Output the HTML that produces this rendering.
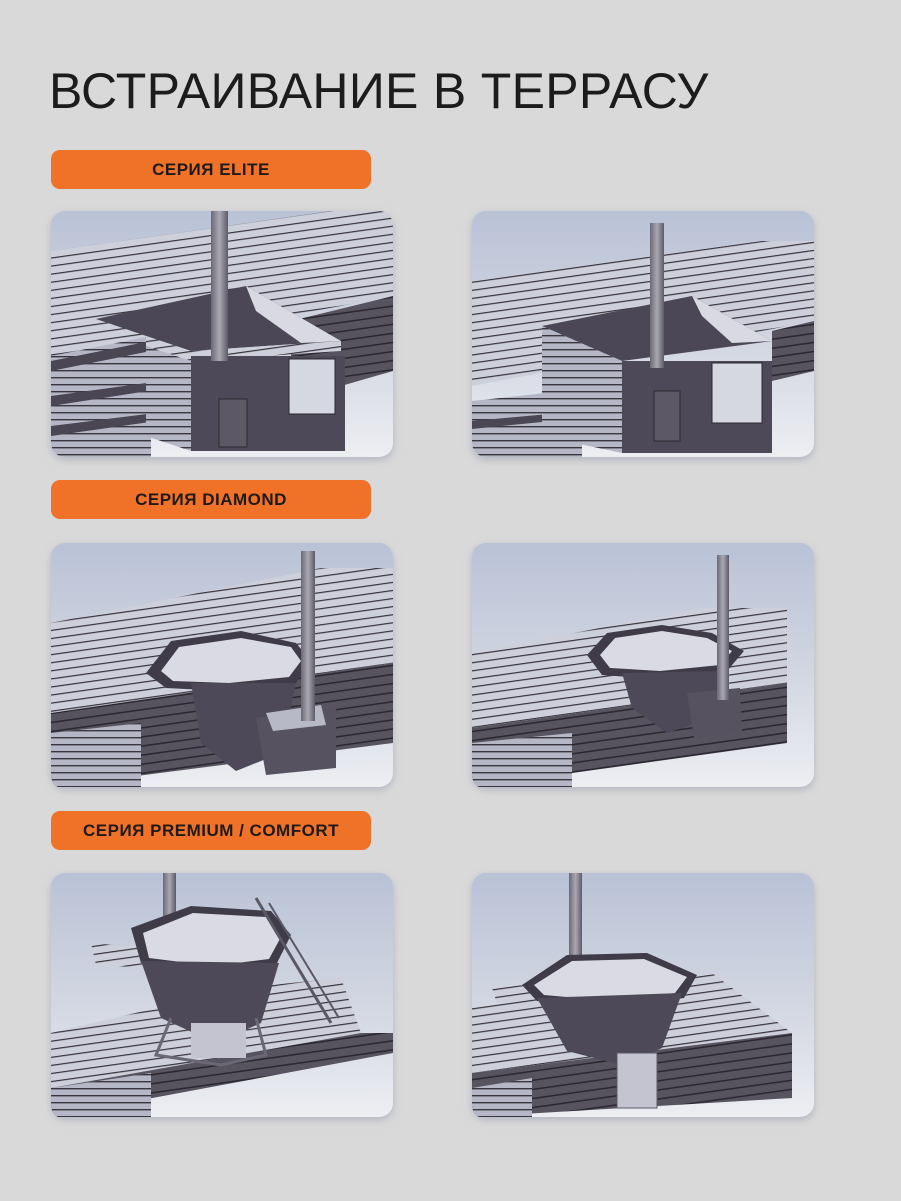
<!DOCTYPE html>
<html><head><meta charset="utf-8"><style>
html,body{margin:0;padding:0;background:#d9d9d9;}
body{width:901px;height:1201px;overflow:hidden;position:relative;font-family:"Liberation Sans",sans-serif;}
.t{position:absolute;left:49px;top:62px;font-size:50px;color:#1c1c1c;letter-spacing:0.3px;white-space:nowrap;}
.lab{position:absolute;left:51px;width:320px;height:39px;background:#f07229;border-radius:9px;color:#1e1a18;font-weight:bold;font-size:17px;text-align:center;line-height:39px;letter-spacing:0.5px;}
svg{position:absolute;left:0;top:0;}
</style></head><body>
<div class="t">ВСТРАИВАНИЕ В ТЕРРАСУ</div>
<div class="lab" style="top:150px">СЕРИЯ ELITE</div>
<div class="lab" style="top:480px">СЕРИЯ DIAMOND</div>
<div class="lab" style="top:811px">СЕРИЯ PREMIUM / COMFORT</div>
<svg width="901" height="1201" viewBox="0 0 901 1201">
<defs>
<linearGradient id="bg" x1="0" y1="0" x2="0" y2="1"><stop offset="0" stop-color="#b9c2d6"/><stop offset="0.55" stop-color="#d3d7e2"/><stop offset="1" stop-color="#eceef2"/></linearGradient>
<pattern id="st" width="8" height="8" patternUnits="userSpaceOnUse" patternTransform="rotate(-8)"><rect width="8" height="8" fill="#cdcfdb"/><rect y="6" width="8" height="1.2" fill="#36323c"/></pattern>
<pattern id="sd" width="8" height="9" patternUnits="userSpaceOnUse" patternTransform="rotate(-8)"><rect width="8" height="9" fill="#57535f"/><rect y="6" width="8" height="1.5" fill="#2a2730"/></pattern>
<pattern id="sh" width="8" height="7" patternUnits="userSpaceOnUse"><rect width="8" height="7" fill="#b5b7c6"/><rect y="5" width="8" height="1.4" fill="#3a3640"/></pattern>
<linearGradient id="ch" x1="0" x2="1"><stop offset="0" stop-color="#6b6976"/><stop offset="0.5" stop-color="#a9a8b2"/><stop offset="1" stop-color="#5c5a66"/></linearGradient>
<clipPath id="cp"><rect width="342" height="246" rx="14"/></clipPath>
<filter id="sh0" x="-10%" y="-10%" width="120%" height="120%"><feDropShadow dx="0" dy="3" stdDeviation="4" flood-color="#8a93a8" flood-opacity="0.5"/></filter>
</defs>

<g transform="translate(51,211)"><rect width="342" height="246" rx="14" fill="url(#bg)" filter="url(#sh0)"/><g clip-path="url(#cp)">
<polygon points="0,40 280,0 342,0 342,85 0,150" fill="url(#st)"/>
<polygon points="240,110 342,85 342,160 290,175 240,175" fill="url(#sd)"/>
<polygon points="0,145 100,125 100,246 0,246" fill="url(#sh)"/>
<polygon points="0,150 100,130 100,140 0,160" fill="#4a4654"/>
<polygon points="0,185 110,170 110,178 0,195" fill="#4a4654"/>
<polygon points="0,215 120,200 120,208 0,225" fill="#4a4654"/>
<polygon points="45,108 195,75 290,130 140,140" fill="#4b4756"/>
<polygon points="195,75 290,130 250,132 205,100" fill="#d8d9e2"/>
<polygon points="95,125 140,140 290,130 290,140 140,150 95,135" fill="url(#st)"/>
<polygon points="95,135 140,150 140,240 95,225" fill="url(#sh)"/>
<rect x="140" y="145" width="154" height="95" fill="#4d4958"/>
<rect x="238" y="148" width="46" height="55" fill="#d6d8e1" stroke="#2c2932"/>
<rect x="168" y="188" width="28" height="48" fill="#5c5866" stroke="#2c2932"/>
<rect x="160" y="0" width="17" height="150" fill="url(#ch)"/>
</g></g>

<g transform="translate(472,211)"><rect width="342" height="246" rx="14" fill="url(#bg)" filter="url(#sh0)"/><g clip-path="url(#cp)">
<polygon points="0,70 290,30 342,30 342,110 0,175" fill="url(#st)"/>
<polygon points="300,120 342,110 342,160 300,170" fill="url(#sd)"/>
<polygon points="0,190 110,178 110,246 0,246" fill="url(#sh)"/>
<polygon points="0,210 110,200 110,207 0,218" fill="#4a4654"/>
<polygon points="70,115 220,85 300,130 150,150" fill="#4b4756"/>
<polygon points="220,85 300,130 260,132 230,105" fill="#d8d9e2"/>
<polygon points="70,115 150,150 150,242 70,225" fill="url(#sh)"/>
<rect x="150" y="150" width="150" height="92" fill="#4d4958"/>
<rect x="240" y="152" width="50" height="60" fill="#d6d8e1" stroke="#2c2932"/>
<rect x="182" y="180" width="26" height="50" fill="#5c5866" stroke="#2c2932"/>
<rect x="178" y="12" width="14" height="145" fill="url(#ch)"/>
</g></g>

<g transform="translate(51,543)"><rect width="342" height="244" rx="14" fill="url(#bg)" filter="url(#sh0)"/><g clip-path="url(#cp)">
<polygon points="0,80 270,25 342,25 342,120 0,170" fill="url(#st)"/>
<polygon points="0,170 342,120 342,200 0,244" fill="url(#sd)"/>
<polygon points="0,190 90,180 90,244 0,244" fill="url(#sh)"/>
<polygon points="95,130 120,98 190,88 245,100 260,118 245,140 175,148 115,145" fill="#3f3b48"/>
<polygon points="110,128 128,104 190,95 240,104 250,118 238,134 178,140 122,138" fill="#d9dae3"/>
<polygon points="140,140 245,140 230,210 185,228 150,200" fill="#4d4958"/>
<polygon points="205,175 285,165 285,225 215,232" fill="#56525f"/>
<polygon points="215,170 270,162 275,182 222,188" fill="#b8b9c6"/>
<rect x="250" y="8" width="14" height="170" fill="url(#ch)"/>
</g></g>

<g transform="translate(472,543)"><rect width="342" height="244" rx="14" fill="url(#bg)" filter="url(#sh0)"/><g clip-path="url(#cp)">
<polygon points="0,110 230,65 315,65 315,140 0,185" fill="url(#st)"/>
<polygon points="0,185 315,140 315,200 0,244" fill="url(#sd)"/>
<polygon points="0,200 100,190 100,244 0,244" fill="url(#sh)"/>
<polygon points="115,112 135,90 190,82 240,90 272,108 255,128 185,136 130,132" fill="#3f3b48"/>
<polygon points="128,112 143,95 190,88 235,95 260,108 248,122 188,128 138,125" fill="#d9dae3"/>
<polygon points="150,130 250,128 240,175 195,190 160,165" fill="#4d4958"/>
<polygon points="215,150 268,145 270,188 222,195" fill="#56525f"/>
<rect x="245" y="12" width="12" height="145" fill="url(#ch)"/>
</g></g>

<g transform="translate(51,873)"><rect width="342" height="244" rx="14" fill="url(#bg)" filter="url(#sh0)"/><g clip-path="url(#cp)">
<polygon points="0,160 190,115 290,105 310,160 0,215" fill="url(#st)"/>
<polygon points="0,215 310,160 342,160 342,180 0,244" fill="url(#sd)"/>
<polygon points="0,215 100,200 100,244 0,244" fill="url(#sh)"/>
<rect x="112" y="0" width="13" height="70" fill="url(#ch)"/>
<polygon points="40,70 100,75 100,95 45,92" fill="url(#st)"/>
<polygon points="80,55 140,33 220,38 240,62 225,92 160,100 90,90" fill="#3f3b48"/>
<polygon points="92,60 142,40 215,44 230,64 218,86 162,93 98,85" fill="#d9dae3"/>
<polygon points="90,88 228,90 210,150 165,170 110,145" fill="#4d4958"/>
<polygon points="140,150 195,150 195,185 140,185" fill="#c3c4d0"/>
<polyline points="120,145 105,182 170,192 215,182 205,145" fill="none" stroke="#6a6776" stroke-width="3"/>
<line x1="205" y1="25" x2="280" y2="150" stroke="#5b5866" stroke-width="3"/>
<line x1="218" y1="30" x2="288" y2="145" stroke="#5b5866" stroke-width="2"/>
</g></g>

<g transform="translate(472,873)"><rect width="342" height="244" rx="14" fill="url(#bg)" filter="url(#sh0)"/><g clip-path="url(#cp)">
<polygon points="0,135 240,100 320,160 0,200" fill="url(#st)"/>
<polygon points="0,200 320,160 320,225 0,244" fill="url(#sd)"/>
<polygon points="0,215 60,205 60,244 0,244" fill="url(#sh)"/>
<rect x="97" y="0" width="13" height="100" fill="url(#ch)"/>
<polygon points="20,115 75,110 75,128 25,130" fill="url(#st)"/>
<polygon points="50,112 95,82 175,80 225,102 212,125 140,135 65,128" fill="#3f3b48"/>
<polygon points="62,112 100,88 172,86 215,104 203,120 140,128 72,122" fill="#d9dae3"/>
<polygon points="65,125 210,120 190,175 150,192 95,178" fill="#4d4958"/>
<rect x="145" y="180" width="40" height="55" fill="#c3c4d0" stroke="#5b5866"/>
</g></g>
</svg>
</body></html>
